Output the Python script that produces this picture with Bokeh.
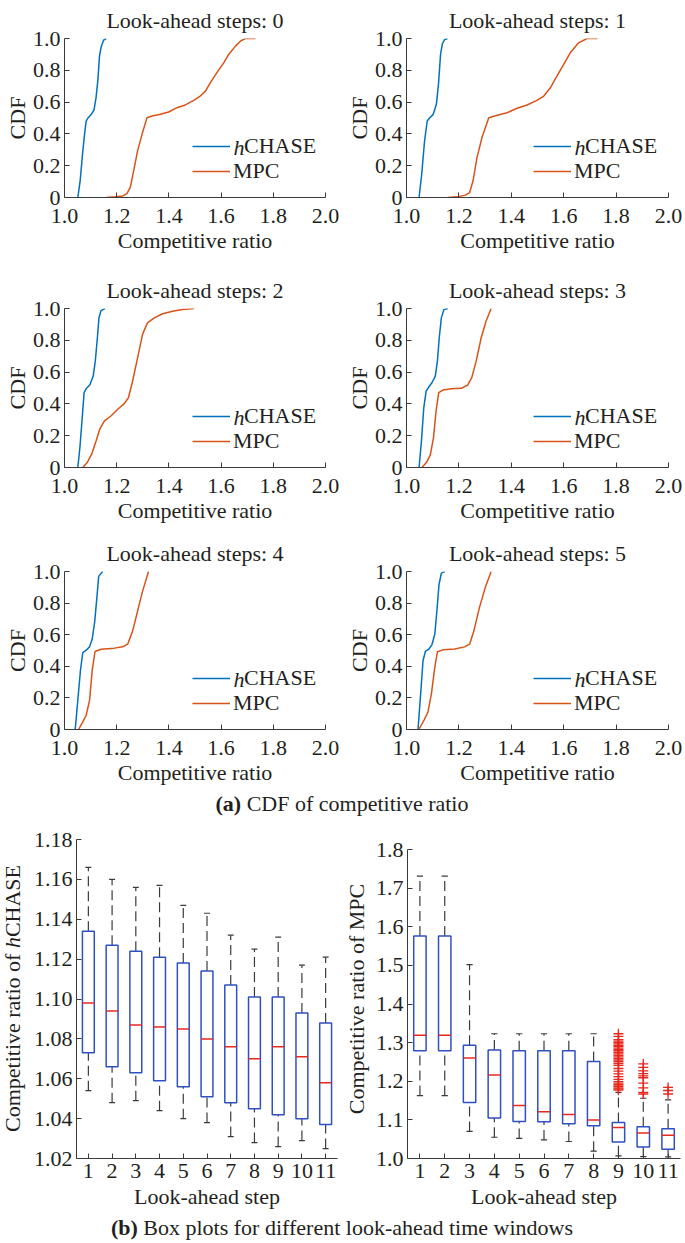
from bokeh.plotting import figure
from bokeh.models import (Range1d, FixedTicker, PrintfTickFormatter, Legend, LegendItem,
                          Label, Div, ColumnDataSource, Title)
from bokeh.layouts import row, column
from bokeh.transform import dodge
from bokeh.embed import file_html
from bokeh.resources import INLINE

# ---------------- data: CDF of competitive ratio ----------------
panel_titles = ["Look-ahead steps: 0", "Look-ahead steps: 1", "Look-ahead steps: 2",
                "Look-ahead steps: 3", "Look-ahead steps: 4", "Look-ahead steps: 5"]

h0_x = [1.051, 1.060, 1.070, 1.077, 1.083, 1.090, 1.101, 1.113, 1.121, 1.128, 1.134, 1.141, 1.150, 1.160]
h0_y = [0.0, 0.105, 0.29, 0.40, 0.48, 0.50, 0.52, 0.55, 0.63, 0.74, 0.89, 0.95, 0.99, 1.0]
m0_x = [1.160, 1.194, 1.224, 1.239, 1.252, 1.265, 1.280, 1.297, 1.316, 1.335, 1.367, 1.399, 1.431,
        1.463, 1.495, 1.520, 1.540, 1.559, 1.584, 1.610, 1.629, 1.655, 1.674, 1.693, 1.731]
m0_y = [0.0, 0.004, 0.01, 0.025, 0.063, 0.167, 0.293, 0.397, 0.502, 0.513, 0.523, 0.538, 0.565,
        0.582, 0.611, 0.638, 0.669, 0.722, 0.785, 0.847, 0.90, 0.952, 0.983, 1.0, 1.0]

h1_x = [1.048, 1.058, 1.069, 1.079, 1.089, 1.102, 1.114, 1.122, 1.130, 1.137, 1.146, 1.157]
h1_y = [0.0, 0.146, 0.356, 0.481, 0.502, 0.523, 0.586, 0.711, 0.90, 0.967, 0.994, 1.0]
m1_x = [1.158, 1.193, 1.225, 1.241, 1.254, 1.269, 1.288, 1.314, 1.346, 1.384, 1.422, 1.460, 1.498,
        1.524, 1.549, 1.574, 1.600, 1.625, 1.657, 1.689, 1.729]
m1_y = [0.0, 0.004, 0.015, 0.031, 0.105, 0.251, 0.377, 0.502, 0.517, 0.533, 0.561, 0.582, 0.611,
        0.638, 0.690, 0.764, 0.837, 0.910, 0.973, 1.0, 1.0]

h2_x = [1.051, 1.059, 1.068, 1.075, 1.084, 1.097, 1.110, 1.118, 1.126, 1.132, 1.140, 1.155]
h2_y = [0.0, 0.126, 0.314, 0.471, 0.498, 0.519, 0.575, 0.669, 0.816, 0.941, 0.987, 1.0]
m2_x = [1.070, 1.087, 1.104, 1.121, 1.135, 1.153, 1.178, 1.204, 1.229, 1.245, 1.261, 1.280, 1.299,
        1.318, 1.344, 1.376, 1.414, 1.452, 1.497]
m2_y = [0.0, 0.031, 0.084, 0.167, 0.241, 0.293, 0.324, 0.366, 0.402, 0.439, 0.544, 0.690, 0.837,
        0.910, 0.941, 0.967, 0.983, 0.994, 1.0]

h3_x = [1.048, 1.057, 1.066, 1.075, 1.085, 1.097, 1.110, 1.118, 1.125, 1.133, 1.143, 1.158]
h3_y = [0.0, 0.167, 0.377, 0.481, 0.506, 0.533, 0.575, 0.669, 0.816, 0.941, 0.994, 1.0]
m3_x = [1.059, 1.076, 1.091, 1.103, 1.113, 1.123, 1.139, 1.171, 1.209, 1.234, 1.249, 1.266, 1.285,
        1.304, 1.323]
m3_y = [0.0, 0.031, 0.079, 0.188, 0.356, 0.471, 0.487, 0.496, 0.498, 0.519, 0.565, 0.669, 0.816,
        0.921, 1.0]

h4_x = [1.041, 1.051, 1.061, 1.070, 1.083, 1.096, 1.106, 1.116, 1.125, 1.131, 1.146]
h4_y = [0.0, 0.184, 0.372, 0.487, 0.502, 0.523, 0.571, 0.686, 0.854, 0.969, 1.0]
m4_x = [1.054, 1.070, 1.083, 1.096, 1.106, 1.117, 1.140, 1.191, 1.223, 1.242, 1.261, 1.280, 1.299, 1.322]
m4_y = [0.0, 0.048, 0.090, 0.184, 0.372, 0.494, 0.508, 0.515, 0.523, 0.540, 0.623, 0.749, 0.874, 1.0]

h5_x = [1.044, 1.054, 1.063, 1.072, 1.085, 1.097, 1.108, 1.116, 1.124, 1.133, 1.146]
h5_y = [0.0, 0.226, 0.435, 0.494, 0.508, 0.536, 0.603, 0.749, 0.916, 0.990, 1.0]
m5_x = [1.047, 1.067, 1.082, 1.095, 1.108, 1.118, 1.139, 1.184, 1.222, 1.241, 1.257, 1.278, 1.300, 1.323]
m5_y = [0.0, 0.059, 0.111, 0.226, 0.393, 0.492, 0.504, 0.510, 0.523, 0.540, 0.623, 0.770, 0.895, 1.0]

cdf_x_ticks = [1.0, 1.2, 1.4, 1.6, 1.8, 2.0]
cdf_y_ticks = [0.0, 0.2, 0.4, 0.6, 0.8, 1.0]

# ---------------- data: box plots ----------------
steps = [1, 2, 3, 4, 5, 6, 7, 8, 9, 10, 11]
hchase_hi = [1.166, 1.160, 1.156, 1.157, 1.147, 1.143, 1.132, 1.125, 1.131, 1.117, 1.121]
hchase_q3 = [1.134, 1.127, 1.124, 1.121, 1.118, 1.114, 1.107, 1.101, 1.101, 1.093, 1.088]
hchase_med = [1.098, 1.094, 1.087, 1.086, 1.085, 1.080, 1.076, 1.070, 1.076, 1.071, 1.058]
hchase_q1 = [1.073, 1.066, 1.063, 1.059, 1.056, 1.051, 1.048, 1.045, 1.042, 1.040, 1.037]
hchase_lo = [1.054, 1.048, 1.049, 1.044, 1.040, 1.038, 1.031, 1.028, 1.026, 1.029, 1.025]

mpc_hi = [1.731, 1.731, 1.502, 1.323, 1.323, 1.323, 1.323, 1.323, 1.171, 1.156, 1.152]
mpc_q3 = [1.576, 1.576, 1.293, 1.281, 1.279, 1.279, 1.279, 1.251, 1.093, 1.082, 1.077]
mpc_med = [1.319, 1.319, 1.260, 1.216, 1.137, 1.121, 1.114, 1.100, 1.080, 1.066, 1.060]
mpc_q1 = [1.279, 1.279, 1.145, 1.105, 1.096, 1.095, 1.090, 1.085, 1.043, 1.030, 1.024]
mpc_lo = [1.163, 1.163, 1.070, 1.055, 1.052, 1.048, 1.044, 1.019, 1.007, 1.005, 1.004]

mpc_out_step_9 = [9] * 32
mpc_out_val_9 = [1.323, 1.316, 1.308, 1.304, 1.300, 1.297, 1.293, 1.290, 1.286, 1.282, 1.279,
                 1.275, 1.271, 1.267, 1.263, 1.259, 1.255, 1.251, 1.246, 1.241, 1.233, 1.226,
                 1.219, 1.212, 1.205, 1.199, 1.195, 1.191, 1.187, 1.183, 1.180, 1.177]
mpc_out_step_10 = [10] * 10
mpc_out_val_10 = [1.245, 1.236, 1.227, 1.220, 1.214, 1.209, 1.195, 1.183, 1.171, 1.167]
mpc_out_step_11 = [11] * 3
mpc_out_val_11 = [1.184, 1.176, 1.167]

hchase_y_ticks = [1.02, 1.04, 1.06, 1.08, 1.10, 1.12, 1.14, 1.16, 1.18]
mpc_y_ticks = [1.0, 1.1, 1.2, 1.3, 1.4, 1.5, 1.6, 1.7, 1.8]

# ---------------- style ----------------
FONT = "Liberation Serif"
FS = "22px"
TXT = "#231f20"
AX = "#3a3a3a"
BLUE = "#0072BD"
ORANGE = "#D95319"
BOXC = "#2f50c2"
WHISK = "#3a3a3a"
RED = "#e8281e"


def base_fig(width, height, xr, yr, lb, rb, tb, bb, **kw):
    p = figure(width=width, height=height, x_range=xr, y_range=yr,
               output_backend="svg", toolbar_location=None, tools="",
               min_border_left=lb, min_border_right=rb, min_border_top=tb,
               min_border_bottom=bb, background_fill_color="white",
               border_fill_color="white", **kw)
    p.outline_line_color = None
    p.xgrid.visible = False
    p.ygrid.visible = False
    return p


def style_axis(ax, ticks, fmt, label, lab_standoff, axl_standoff, overrides=None):
    ax.ticker = FixedTicker(ticks=ticks)
    if fmt is not None:
        ax.formatter = fmt
    if overrides:
        ax.major_label_overrides = overrides
    ax.axis_label = label
    ax.axis_line_color = AX
    ax.axis_line_width = 1
    ax.major_tick_in = 5
    ax.major_tick_out = 0
    ax.major_tick_line_color = AX
    ax.minor_tick_line_color = None
    ax.major_label_standoff = lab_standoff
    ax.axis_label_standoff = axl_standoff
    ax.major_label_text_font = FONT
    ax.major_label_text_font_size = FS
    ax.major_label_text_color = TXT
    ax.axis_label_text_font = FONT
    ax.axis_label_text_font_size = FS
    ax.axis_label_text_font_style = "normal"
    ax.axis_label_text_color = TXT


# (top border, frame height, bottom border) per CDF row
ROWS = [(37, 160, 73), (37, 160, 66), (37, 159, 63)]
LEG_Y_H, LEG_Y_M = 50, 25   # legend row centres, px above the frame bottom


def cdf_panel(k, hx, hy, mx, my):
    r = k // 2
    left = (k % 2 == 0)
    lb, fw, rb = (64, 261, 15) if left else (66, 262, 16)
    tb, fh, bb = ROWS[r]
    p = base_fig(lb + fw + rb, tb + fh + bb, Range1d(1.0, 2.0), Range1d(0.0, 1.0),
                 lb, rb, tb, bb)
    p.title = Title(text=panel_titles[k], align="center", standoff=11,
                    text_font=FONT, text_font_size=FS, text_font_style="normal",
                    text_color=TXT)
    style_axis(p.xaxis[0], cdf_x_ticks, PrintfTickFormatter(format="%.1f"),
               "Competitive ratio", 11, 2)
    style_axis(p.yaxis[0], cdf_y_ticks, PrintfTickFormatter(format="%.1f"),
               "CDF", 4, 0, overrides={0: "0"})
    rh = p.line(hx, hy, line_color=BLUE, line_width=1.5)
    rm = p.line(mx, my, line_color=ORANGE, line_width=1.5)

    lx = 128 if left else 127
    common = dict(glyph_width=38, glyph_height=24, label_height=24, padding=0, margin=0,
                  spacing=0, border_line_color=None, background_fill_alpha=0,
                  label_text_font=FONT, label_text_font_size=FS, label_text_color=TXT)
    legA = Legend(items=[LegendItem(label="CHASE", renderers=[rh])],
                  location=(lx, LEG_Y_H - 12), label_standoff=14, **common)
    legB = Legend(items=[LegendItem(label="MPC", renderers=[rm])],
                  location=(lx, LEG_Y_M - 12), label_standoff=3, **common)
    p.add_layout(legA)
    p.add_layout(legB)
    p.add_layout(Label(x=lx + 38 + 3, y=LEG_Y_H, x_units="screen", y_units="screen", text="h",
                       text_font=FONT, text_font_size=FS, text_font_style="italic",
                       text_baseline="middle", text_align="left", text_color=TXT))
    return p


cdf_data = [(h0_x, h0_y, m0_x, m0_y), (h1_x, h1_y, m1_x, m1_y), (h2_x, h2_y, m2_x, m2_y),
            (h3_x, h3_y, m3_x, m3_y), (h4_x, h4_y, m4_x, m4_y), (h5_x, h5_y, m5_x, m5_y)]
cdf_figs = [cdf_panel(k, *d) for k, d in enumerate(cdf_data)]

BOX_TB, BOX_FH, BOX_BB = 23, 319, 57
MPC_PAD_PX = 10  # MPC panel's 1.8 line sits this far below the shared frame top
YLAB_W = 26


def box_panel(left, lo, q1, med, q3, hi, yr, yticks, fmt, ylabel, out_x=None, out_y=None):
    if left:
        lb, fw, rb = 76 - YLAB_W, 261, 3
    else:
        lb, fw, rb = 64, 276, 4
    p = base_fig(lb + fw + rb, BOX_TB + BOX_FH + BOX_BB, Range1d(0.5, 11.5), yr,
                 lb, rb, BOX_TB, BOX_BB, title=None)
    style_axis(p.xaxis[0], steps, None, "Look-ahead step", 5, 3)
    style_axis(p.yaxis[0], yticks, fmt, ylabel, 4, 4)
    p.yaxis[0].bounds = (yticks[0], yticks[-1])
    src = ColumnDataSource(dict(step=steps, lo=lo, q1=q1, med=med, q3=q3, hi=hi))
    p.segment(x0="step", y0="q3", x1="step", y1="hi", source=src, line_color=WHISK,
              line_width=1.2, line_dash="10 5")
    p.segment(x0="step", y0="lo", x1="step", y1="q1", source=src, line_color=WHISK,
              line_width=1.2, line_dash="10 5")
    p.segment(x0=dodge("step", -0.125, range=p.x_range), y0="hi",
              x1=dodge("step", 0.125, range=p.x_range), y1="hi", source=src,
              line_color=WHISK, line_width=1.2)
    p.segment(x0=dodge("step", -0.125, range=p.x_range), y0="lo",
              x1=dodge("step", 0.125, range=p.x_range), y1="lo", source=src,
              line_color=WHISK, line_width=1.2)
    p.vbar(x="step", width=0.5, bottom="q1", top="q3", source=src, fill_color=None,
           line_color=BOXC, line_width=1.5)
    p.segment(x0=dodge("step", -0.25, range=p.x_range), y0="med",
              x1=dodge("step", 0.25, range=p.x_range), y1="med", source=src,
              line_color=RED, line_width=1.5)
    if out_x is not None:
        p.scatter(out_x, out_y, marker="cross", size=10, line_color=RED, line_width=1.3)
    return p


box_h = box_panel(True, hchase_lo, hchase_q1, hchase_med, hchase_q3, hchase_hi,
                  Range1d(1.02, 1.18), hchase_y_ticks,
                  PrintfTickFormatter(format="%.2f"), "")

mpc_span = mpc_y_ticks[-1] - mpc_y_ticks[0]
mpc_top = mpc_y_ticks[-1] + MPC_PAD_PX * mpc_span / (BOX_FH - MPC_PAD_PX)
box_m = box_panel(False, mpc_lo, mpc_q1, mpc_med, mpc_q3, mpc_hi,
                  Range1d(mpc_y_ticks[0], mpc_top), mpc_y_ticks,
                  PrintfTickFormatter(format="%.1f"), "Competitive ratio of MPC",
                  out_x=mpc_out_step_9 + mpc_out_step_10 + mpc_out_step_11,
                  out_y=mpc_out_val_9 + mpc_out_val_10 + mpc_out_val_11)

# rotated y-axis title of the hCHASE box plot (with italic "h"), as real text
YLAB_TEXT_W = 267
ylab_top = BOX_TB + BOX_FH / 2 + YLAB_TEXT_W / 2
ylab_div = Div(
    text=('<div style="position:relative;width:%dpx;height:%dpx;">'
          '<div style="position:absolute;left:0px;top:%dpx;transform:rotate(-90deg);'
          'transform-origin:0 0;white-space:nowrap;font-family:\'Liberation Serif\';'
          'font-size:22px;line-height:26px;color:#231f20;">'
          'Competitive ratio of <i>h</i>CHASE</div></div>')
    % (YLAB_W, BOX_TB + BOX_FH + BOX_BB, ylab_top),
    width=YLAB_W, height=BOX_TB + BOX_FH + BOX_BB, margin=0)

CAP_STYLE = ("width:684px;text-align:center;font-family:'Liberation Serif';"
             "font-size:22px;color:#231f20;white-space:nowrap;")
div_a = Div(text='<div style="%sline-height:24px"><b>(a)</b> CDF of competitive ratio</div>'
            % CAP_STYLE, width=684, height=24, margin=0)
div_b = Div(text='<div style="%sline-height:26px"><b>(b)</b> Box plots for different '
                 'look-ahead time windows</div>' % CAP_STYLE, width=684, height=26, margin=0)

layout = column(
    row(cdf_figs[0], cdf_figs[1]),
    row(cdf_figs[2], cdf_figs[3]),
    row(cdf_figs[4], cdf_figs[5]),
    div_a,
    row(ylab_div, box_h, box_m),
    div_b,
)

open("out.html", "w").write(file_html(layout, INLINE))
